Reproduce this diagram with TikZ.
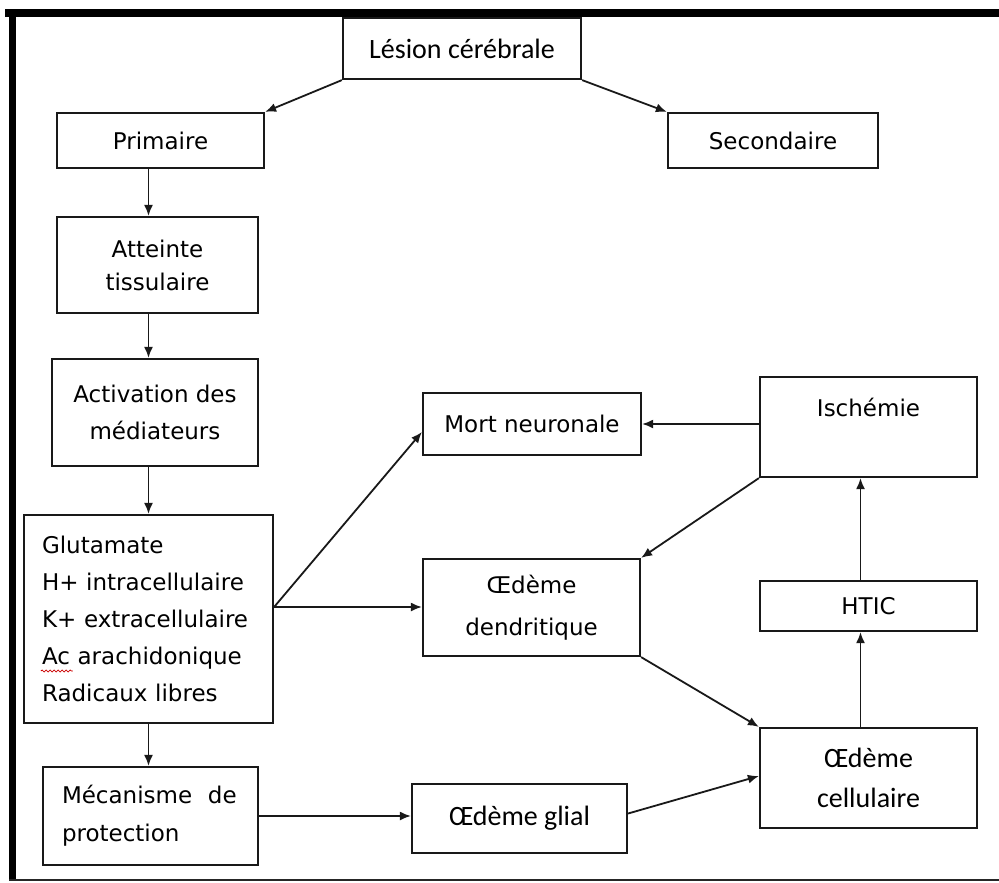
\documentclass[tikz,border=0pt]{standalone}
\usepackage{fontspec}
\setmainfont{DejaVu Sans}
\newfontfamily\calib{Carlito}
\usetikzlibrary{arrows.meta,calc,decorations.pathmorphing}
\tikzset{
  bx/.style={draw=black!90, line width=2.2pt, inner sep=0pt, align=center,
    font=\fontsize{23}{37}\selectfont, text=black},
  cb/.style={font=\calib\fontsize{28}{40}\selectfont},
  arr/.style={draw=black!90, line width=1.8pt, -{Latex[length=11pt,width=9pt]}},
  frame/.style={fill=black}
}
\begin{document}
\begin{tikzpicture}[x=1pt,y=-1pt]
\fill[white] (0,0) rectangle (999,883);
\useasboundingbox (0,0) rectangle (999,883);
% frame
\fill[frame] (5,9) rectangle (999,17);
\fill[frame] (9,9) rectangle (16,881);
\fill[black!85] (9,879) rectangle (999,881);

% boxes
\node[bx,cb,minimum width=238pt,minimum height=61pt] (lesion) at (462,48.5) {Lésion cérébrale};
\node[bx,minimum width=207pt,minimum height=55pt] (primaire) at (160.5,140.5) {Primaire};
\node[bx,minimum width=210pt,minimum height=55pt] (secondaire) at (773,140.5) {Secondaire};
\node[bx,minimum width=201pt,minimum height=96pt,font=\fontsize{23}{33}\selectfont] (atteinte) at (157.5,265) {Atteinte\\tissulaire};
\node[bx,minimum width=206pt,minimum height=107pt] (activation) at (155,412.5) {Activation des\\médiateurs};
\node[bx,align=left,inner xsep=18pt,text width=213pt,minimum height=208pt] (gluta) at (148.5,619) {Glutamate\\H+ intracellulaire\\K+ extracellulaire\\Ac arachidonique\\Radicaux libres};
\node[bx,align=left,inner xsep=19pt,text width=177pt,minimum height=98pt,font=\fontsize{23}{38}\selectfont] (meca) at (150.5,816) {Mécanisme\hspace{8pt} de\\protection};
\node[bx,cb,minimum width=215pt,minimum height=69pt] (glial) at (519.5,818.5) {\raisebox{4pt}{Œdème glial}};
\node[bx,minimum width=218pt,minimum height=62pt] (mort) at (532,424) {Mort neuronale};
\node[bx,minimum width=217pt,minimum height=97pt,font=\fontsize{23}{42}\selectfont] (dend) at (531.5,607.5) {Œdème\\dendritique};
\node[bx,minimum width=217pt,minimum height=100pt,font=\fontsize{23}{40}\selectfont] (isch) at (868.5,427) {Ischémie\\\mbox{}};
\node[bx,minimum width=217pt,minimum height=50pt] (htic) at (868.5,606) {HTIC};
\node[bx,cb,minimum width=217pt,minimum height=100pt] (cell) at (868.5,778) {Œdème\\cellulaire};

% spell-check underline
\draw[red!80!black, line width=0.8pt, decorate, decoration={snake,amplitude=1pt,segment length=4pt}]
  ([xshift=18pt,yshift=-52pt]gluta.west) -- ([xshift=50pt,yshift=-52pt]gluta.west);

% connectors
\draw[arr] (lesion.south west) -- (primaire.north east);
\draw[arr] (lesion.south east) -- (secondaire.north west);
\draw[arr] (primaire.south -| gluta.north) -- (atteinte.north -| gluta.north);
\draw[arr] (atteinte.south -| gluta.north) -- (activation.north -| gluta.north);
\draw[arr] (activation.south -| gluta.north) -- (gluta.north);
\draw[arr] (gluta.south) -- (meca.north -| gluta.south);
\coordinate (branch) at ([yshift=12pt]gluta.east);
\draw[arr] (branch) -- ([yshift=-8pt]mort.west);
\draw[arr] (branch) -- (branch -| dend.west);
\draw[arr] (mort.east -| isch.west) -- (mort.east);
\draw[arr] (isch.south west) -- (dend.north east);
\draw[arr] (dend.south east) -- (cell.north west);
\draw[arr] ([xshift=-8pt]cell.north) -- ([xshift=-8pt]htic.south);
\draw[arr] ([xshift=-8pt]htic.north) -- ([xshift=-8pt]isch.south);
\draw[arr] (meca.east) -- (meca.east -| glial.west);
\draw[arr] ([yshift=5pt]glial.east) -- ([yshift=2pt]cell.west);
\end{tikzpicture}
\end{document}
